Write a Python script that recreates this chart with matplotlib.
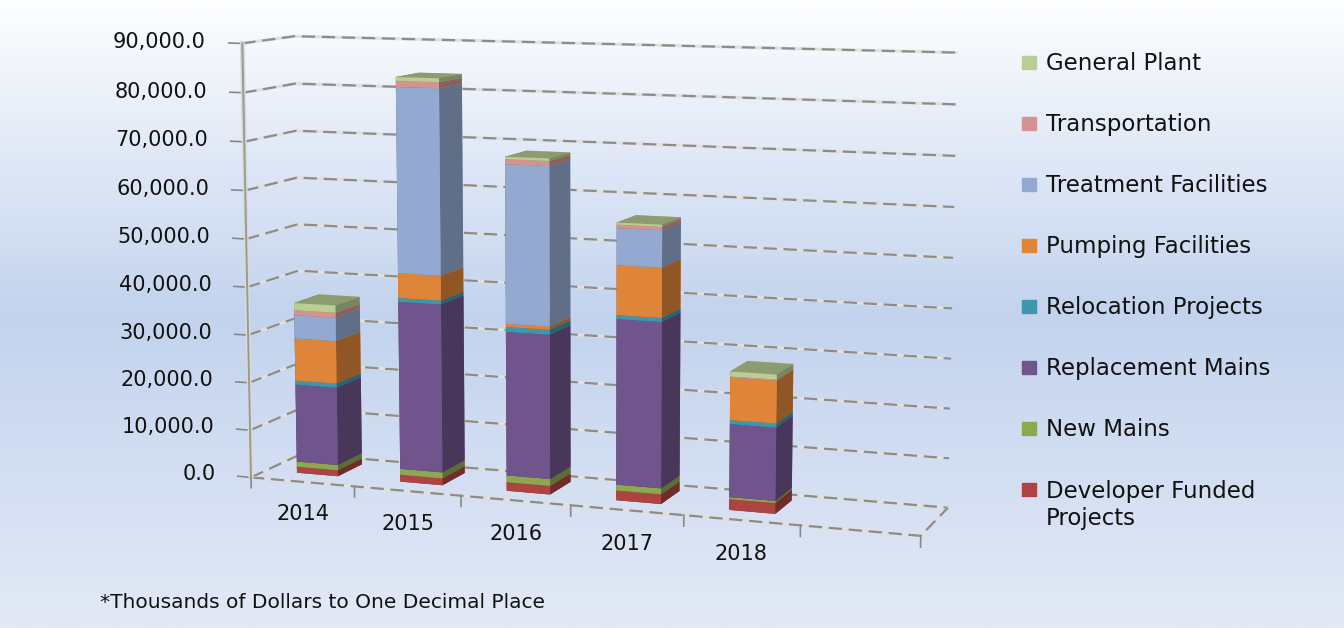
import numpy as np
import matplotlib
matplotlib.use('Agg')
import matplotlib.pyplot as plt
from matplotlib.colors import LinearSegmentedColormap, to_rgb
from matplotlib.patches import Rectangle
from mpl_toolkits.mplot3d import proj3d

years = ['2014', '2015', '2016', '2017', '2018']
series = ['Developer Funded\nProjects', 'New Mains', 'Replacement Mains', 'Relocation Projects',
          'Pumping Facilities', 'Treatment Facilities', 'Transportation', 'General Plant']
colors = ['#AE4441', '#8CA94F', '#70558C', '#3F97AE', '#DE853A', '#93A9D0', '#D39391', '#B9CD94']

developer = [1300, 1450, 1800, 2000, 2200]
new_mains = [1100, 1250, 1400, 1200, 400]
replacement = [16400, 34900, 29600, 33600, 14700]
relocation = [850, 800, 1000, 800, 800]
pumping = [8900, 5100, 650, 10000, 8500]
treatment = [4900, 38000, 32300, 7400, 0]
transportation = [1050, 1200, 1000, 700, 200]
general = [1500, 800, 500, 400, 1000]
stack = [developer, new_mains, replacement, relocation, pumping, treatment, transportation, general]

value_ticks = [0, 10000, 20000, 30000, 40000, 50000, 60000, 70000, 80000, 90000]

W, H = 1344, 628
fig = plt.figure(figsize=(W / 100, H / 100), dpi=100)

# background gradient
bg = fig.add_axes([0, 0, 1, 1], zorder=-1)
cmap = LinearSegmentedColormap.from_list('bg', [(0, '#FDFEFF'), (0.5, '#C3D3EE'), (1, '#E3E9F6')])
bg.imshow(np.linspace(0, 1, 256).reshape(-1, 1), cmap=cmap, aspect='auto', vmin=0, vmax=1)
bg.set_xticks([])
bg.set_yticks([])
bg.axis('off')

# 3d axes, larger than the figure so nothing is clipped
size = 822
cx, cy = 580, 284
ax = fig.add_axes([(cx - size / 2) / W, 1 - (cy + size / 2) / H, size / W, size / H],
                  projection='3d', computed_zorder=False)
ax.set_proj_type('persp', focal_length=0.6)
ax.view_init(elev=8.8, azim=-70)
ax.set_box_aspect((718, 120, 456))
ax.set_xlim(0, 6)
ax.set_ylim(0, 1)
ax.set_zlim(0, 90000)
ax.set_xticks([])
ax.set_yticks([])
ax.set_zticks([])
ax.set_axis_off()
ax.patch.set_alpha(0)


def frame_line(xs, ys, zs):
    ax.plot(xs, ys, zs, color='#E0E0DC', lw=2.2, solid_capstyle='butt')
    ax.plot(xs, ys, zs, color='#8C8C8C', lw=1.6, ls=(0, (6, 3)))


def label3d(x, y, z, s, ha):
    # projected by hand so the label is an ordinary 2d text
    px, py, _ = proj3d.proj_transform(x, y, z, ax.get_proj())
    ax.text2D(px, py, s, transform=ax.transData, ha=ha, va='center', fontsize=15, color='#111111')


# wall gridlines
for v in value_ticks:
    frame_line([0, 0, 6], [0, 1, 1], [v, v, v])
    label3d(-0.35, 0, v, f'{v:,.1f}', 'right')
    ax.plot([-0.13, 0], [0, 0], [v, v], color='#888888', lw=1.2)

# floor front and right edges, value axis
frame_line([0, 6, 6], [0, 0, 1], [0, 0, 0])
ax.plot([0, 0], [0, 0], [0, 90000], color='#DADAD5', lw=3.5)
ax.plot([0, 0], [0, 0], [0, 90000], color='#999996', lw=1.4)
for i in range(7):
    ax.plot([i, i], [0, 0], [0, -2200], color='#888888', lw=1.2)

# stacked bars
for i in range(len(years)):
    base = 0
    for vals, c in zip(stack, colors):
        v = vals[i]
        if v > 0:
            rgb = np.array(to_rgb(c))
            faces = [rgb * 0.8, rgb * 0.76, rgb, rgb, rgb * 0.65, rgb * 0.65]
            bar = ax.bar3d(i + 0.3, 0.3, base, 0.4, 0.5, v, color=faces, shade=False, zsort='average')
            bar.set_zorder(5)
        base += v
    label3d(i + 0.5, 0, -6800, years[i], 'center')

# legend, listed top to bottom
for k in range(len(series)):
    j = len(series) - 1 - k
    y = 63 + k * 61
    fig.add_artist(Rectangle((1022 / W, 1 - (y + 6) / H), 14 / W, 13 / H, color=colors[j],
                             transform=fig.transFigure))
    va = 'top' if j == 0 else 'center'
    yy = y - 10 if j == 0 else y
    fig.text(1046 / W, 1 - yy / H, series[j], fontsize=16.5, ha='left', va=va, color='#111111')

fig.text(100 / W, 1 - 602 / H, '*Thousands of Dollars to One Decimal Place', fontsize=14.5,
         ha='left', va='center', color='#111111')

fig.savefig('out.png', dpi=100)
